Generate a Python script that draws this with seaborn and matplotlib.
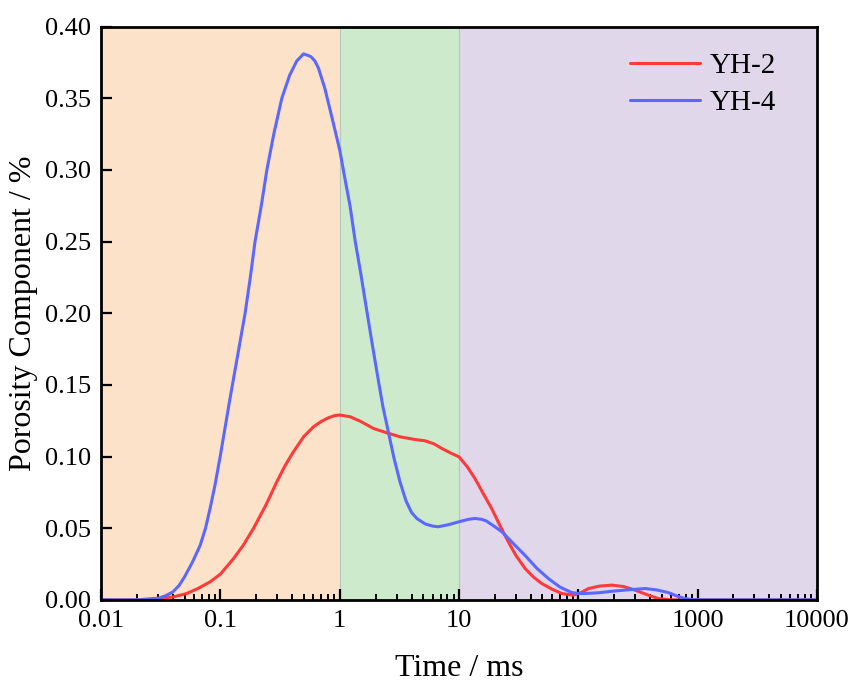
import numpy as np
import pandas as pd
import seaborn as sns
import matplotlib.pyplot as plt

# T2 spectrum values
yh2_time = [0.01, 0.02, 0.0258, 0.033, 0.04, 0.052, 0.065, 0.082, 0.1, 0.129, 0.155, 0.189,
            0.24, 0.297, 0.35, 0.409, 0.5, 0.603, 0.7, 0.8, 0.9, 1.0, 1.22, 1.5, 1.92, 2.5,
            3.2, 4.2, 5.2, 6.2, 7.2, 8.5, 10, 11.7, 13.6, 16, 18.8, 22, 25.9, 30, 35.8, 42,
            49.4, 60, 72.8, 91, 105, 122, 150, 191, 240, 299, 380, 469, 600, 10000]
yh2_por = [0, 0, 0.0008, 0.0014, 0.002, 0.0044, 0.008, 0.0126, 0.018, 0.0289, 0.038, 0.0498,
           0.066, 0.0824, 0.094, 0.1033, 0.114, 0.1208, 0.1245, 0.127, 0.1285, 0.129, 0.1278,
           0.1245, 0.1196, 0.1165, 0.1138, 0.112, 0.111, 0.1088, 0.1056, 0.1025, 0.0998, 0.093,
           0.0847, 0.074, 0.0637, 0.052, 0.0405, 0.031, 0.0219, 0.016, 0.0114, 0.0075, 0.0044,
           0.0033, 0.005, 0.0079, 0.0096, 0.0103, 0.0093, 0.0068, 0.0035, 0.0009, 0, 0]

yh4_time = [0.01, 0.02, 0.026, 0.03, 0.035, 0.04, 0.045, 0.05, 0.058, 0.0676, 0.075, 0.082,
            0.09, 0.1, 0.12, 0.146, 0.161, 0.178, 0.195, 0.22, 0.245, 0.28, 0.327, 0.38, 0.436,
            0.497, 0.54, 0.575, 0.62, 0.664, 0.75, 0.859, 1.0, 1.1, 1.22, 1.35, 1.5, 1.67, 1.86,
            2.1, 2.3, 2.56, 2.85, 3.2, 3.6, 4.0, 4.43, 5.2, 6.0, 6.7, 8.2, 10, 12, 13.6, 15.5,
            17, 20, 22.9, 28, 35.8, 45, 56.1, 70, 88, 100, 114, 150, 191, 260, 363, 450, 569,
            680, 785, 900, 1000, 10000]
yh4_por = [0, 0, 0.0002, 0.001, 0.003, 0.0056, 0.010, 0.016, 0.026, 0.038, 0.05, 0.064, 0.08,
           0.101, 0.14, 0.18, 0.2, 0.225, 0.25, 0.275, 0.30, 0.325, 0.35, 0.366, 0.376, 0.381,
           0.380, 0.379, 0.376, 0.371, 0.357, 0.337, 0.314, 0.295, 0.275, 0.25, 0.228, 0.204,
           0.18, 0.154, 0.135, 0.117, 0.099, 0.0824, 0.069, 0.061, 0.0568, 0.053, 0.0515, 0.051,
           0.0525, 0.0545, 0.0562, 0.0568, 0.0562, 0.055, 0.051, 0.0475, 0.040, 0.031, 0.022,
           0.0149, 0.009, 0.0051, 0.0045, 0.0044, 0.005, 0.006, 0.007, 0.0079, 0.007, 0.0051,
           0.0025, 0.0009, 0.0002, 0, 0]

x_ticks = [0.01, 0.1, 1, 10, 100, 1000, 10000]
x_tick_labels = ['0.01', '0.1', '1', '10', '100', '1000', '10000']
y_ticks = [0.00, 0.05, 0.10, 0.15, 0.20, 0.25, 0.30, 0.35, 0.40]

# pore-size zones (shaded bands)
zone_edges = [0.01, 1, 10, 10000]
zone_colors = ['#fce2c9', '#cdeacd', '#e0d7ea']

df = pd.concat([
    pd.DataFrame({'time': yh2_time, 'por': yh2_por, 'sample': 'YH-2'}),
    pd.DataFrame({'time': yh4_time, 'por': yh4_por, 'sample': 'YH-4'}),
])

sns.set_theme(style='ticks')
plt.rcParams['font.family'] = ['Liberation Serif', 'DejaVu Serif']
plt.rcParams.update({'text.color': 'black', 'axes.labelcolor': 'black',
                     'xtick.color': 'black', 'ytick.color': 'black'})

fig = plt.figure(figsize=(8.5, 6.84), dpi=100)
ax = fig.add_axes([0.119, 0.123, 0.842, 0.838])

for i, c in enumerate(zone_colors):
    ax.axvspan(zone_edges[i], zone_edges[i + 1], facecolor=c, edgecolor='#b8c8b8',
               linewidth=0.8, zorder=0)

sns.lineplot(data=df, x='time', y='por', hue='sample', palette=['#ff3a3a', '#5b68ff'],
             linewidth=2.2, ax=ax, sort=False, estimator=None)

ax.set_xscale('log')
ax.set_xlim(0.01, 10000)
ax.set_ylim(0, 0.40)
ax.set_xticks(x_ticks)
ax.set_xticklabels(x_tick_labels)
ax.set_yticks(y_ticks)
ax.set_yticklabels([f'{v:.2f}' for v in y_ticks])

ax.tick_params(axis='both', which='major', direction='in', length=8, width=1.6,
               labelsize=19, pad=7)
ax.tick_params(axis='x', which='minor', direction='in', length=4, width=1.4)
ax.tick_params(top=False, right=False, which='both')

for s in ax.spines.values():
    s.set_linewidth(2)
    s.set_color('black')

ax.set_xlabel('Time / ms', fontsize=23, labelpad=16)
ax.set_ylabel('Porosity Component / %', fontsize=23, labelpad=5)

leg = ax.legend(loc='upper right', frameon=False, fontsize=21, handlelength=2.4,
                labelspacing=0.35, borderaxespad=0.4, handletextpad=0.3,
                bbox_to_anchor=(0.975, 0.995))
for t in leg.get_texts():
    t.set_color('black')

fig.savefig('out.png', dpi=100)
